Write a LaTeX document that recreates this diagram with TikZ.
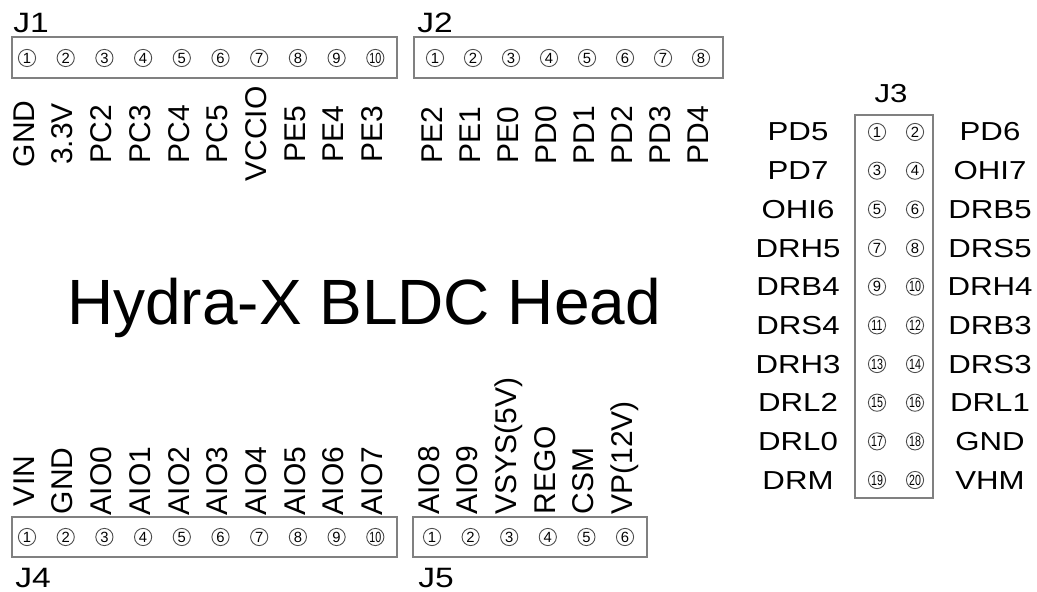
\documentclass[tikz,border=0pt]{standalone}
\usepackage{fontspec}
\setmainfont{Liberation Sans}

\newcommand{\widetext}[1]{\scalebox{1.2}[1]{#1}}
\newcommand{\pinnum}[1]{\ifnum#1>9 \scalebox{0.72}[1]{#1}\else #1\fi}

\begin{document}
\begin{tikzpicture}[x=0.5pt,y=-0.5pt,
    pin/.style={circle,draw=black!70,line width=0.45pt,minimum size=8.6pt,
      inner sep=0pt,font=\fontsize{7.4}{7.4}\selectfont},
    header/.style={draw=black!50,line width=1.1pt},
    vsig/.style={rotate=90,inner sep=0pt,text height=0.72em,text depth=0pt,
      font=\fontsize{15}{15}\selectfont},
    hsig/.style={inner sep=0pt,anchor=base,font=\fontsize{13}{13}\selectfont},
    jname/.style={inner sep=0pt,anchor=base west,font=\fontsize{14}{14}\selectfont}]
  \useasboundingbox (0,0) rectangle (1037,592);

  % title
  \node[anchor=base,inner sep=0pt,font=\fontsize{32}{32}\selectfont] (title)
    at (364,325) {Hydra-X BLDC Head};

  % J1
  \node[jname] (j1) at (13,33) {\widetext{J1}};
  \draw[header] (12,37) rectangle (397,78);
  \foreach \lab [count=\i] in {GND,3.3V,PC2,PC3,PC4,PC5,VCCIO,PE5,PE4,PE3}
  {
    \node[pin] (j1p\i) at ({27+38.7*(\i-1)},58) {\pinnum{\i}};
    \node[vsig] (j1l\i) at ({27+38.7*(\i-1)},134) {\lab};
  }

  % J2
  \node[jname] (j2) at (417,33) {\widetext{J2}};
  \draw[header] (414,37) rectangle (723,78);
  \foreach \lab [count=\i] in {PE2,PE1,PE0,PD0,PD1,PD2,PD3,PD4}
  {
    \node[pin] (j2p\i) at ({435+38*(\i-1)},58) {\pinnum{\i}};
    \node[vsig] (j2l\i) at ({435+38*(\i-1)},135) {\lab};
  }

  % J4
  \node[jname] (j4) at (15,587) {\widetext{J4}};
  \draw[header] (12,517) rectangle (397,557);
  \foreach \lab [count=\i] in {VIN,GND,AIO0,AIO1,AIO2,AIO3,AIO4,AIO5,AIO6,AIO7}
  {
    \node[pin] (j4p\i) at ({27+38.7*(\i-1)},537) {\pinnum{\i}};
    \node[vsig] (j4l\i) at ({27+38.7*(\i-1)},481) {\lab};
  }

  % J5
  \node[jname] (j5) at (418,587) {\widetext{J5}};
  \draw[header] (413,517) rectangle (647,557);
  \foreach \lab [count=\i] in {AIO8,AIO9,VSYS(5V),REGO,CSM,VP(12V)}
  {
    \node[pin] (j5p\i) at ({432+38.6*(\i-1)},537) {\pinnum{\i}};
    \node[vsig,anchor=west] (j5l\i) at ({432+38.6*(\i-1)},515) {\lab};
  }

  % J3, two columns
  \node[hsig] (j3) at (891,103) {\widetext{J3}};
  \draw[header] (855,115) rectangle (933,498);
  \foreach \left/\right [count=\i] in {PD5/PD6,PD7/OHI7,OHI6/DRB5,DRH5/DRS5,
    DRB4/DRH4,DRS4/DRB3,DRH3/DRS3,DRL2/DRL1,DRL0/GND,DRM/VHM}
  {
    \pgfmathtruncatemacro{\odd}{2*\i-1}
    \pgfmathtruncatemacro{\even}{2*\i}
    \node[pin] (j3p\odd) at (877,{132+38.67*(\i-1)}) {\pinnum{\odd}};
    \node[pin] (j3p\even) at (915,{132+38.67*(\i-1)}) {\pinnum{\even}};
    \node[hsig] (j3l\odd) at (798,{141+38.67*(\i-1)}) {\widetext{\left}};
    \node[hsig] (j3l\even) at (990,{141+38.67*(\i-1)}) {\widetext{\right}};
  }
\end{tikzpicture}
\end{document}
